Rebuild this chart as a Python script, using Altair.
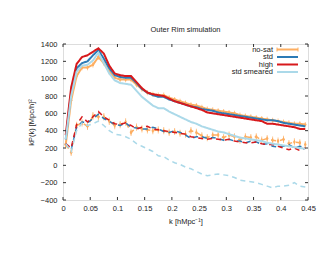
import altair as alt
import pandas as pd

# ---- data ----
k = [0.005, 0.015, 0.025, 0.035, 0.045, 0.055, 0.065, 0.075, 0.085, 0.095,
     0.105, 0.115, 0.125, 0.135, 0.145, 0.155, 0.165, 0.175, 0.185, 0.195,
     0.205, 0.215, 0.225, 0.235, 0.245, 0.255, 0.265, 0.275, 0.285, 0.295,
     0.305, 0.315, 0.325, 0.335, 0.345, 0.355, 0.365, 0.375, 0.385, 0.395,
     0.405, 0.415, 0.425, 0.435, 0.445]

nosat_mono = [240, 750, 1030, 1130, 1130, 1160, 1250, 1180, 1080, 1010,
              990, 990, 990, 930, 880, 840, 820, 810, 810, 780,
              760, 740, 720, 700, 690, 670, 650, 640, 630, 620,
              610, 600, 580, 570, 560, 550, 540, 530, 520, 510,
              500, 490, 480, 480, 470]
nosat_mono_err = [15, 15, 15, 15, 15, 15, 15, 15, 14, 14,
                  14, 14, 14, 13, 13, 13, 13, 13, 13, 12,
                  12, 12, 12, 12, 12, 12, 12, 12, 12, 12,
                  12, 12, 12, 12, 12, 12, 12, 12, 12, 12,
                  12, 12, 12, 12, 12]
std_mono = [300, 850, 1120, 1180, 1200, 1270, 1330, 1230, 1120, 1040,
            1020, 1010, 1010, 950, 880, 840, 810, 790, 790, 760,
            740, 720, 700, 680, 670, 650, 640, 630, 610, 600,
            590, 580, 570, 560, 550, 540, 530, 520, 520, 510,
            490, 480, 470, 460, 450]
high_mono = [350, 900, 1170, 1250, 1270, 1310, 1350, 1290, 1150, 1060,
             1040, 1030, 1030, 960, 890, 840, 820, 810, 800, 770,
             740, 720, 700, 680, 660, 640, 610, 600, 590, 580,
             570, 560, 550, 540, 530, 520, 510, 480, 480, 470,
             460, 450, 440, 420, 420]
smeared_mono = [300, 800, 1080, 1150, 1160, 1210, 1300, 1180, 1060, 980,
                950, 940, 930, 860, 790, 740, 690, 660, 660, 620,
                590, 560, 530, 500, 480, 450, 430, 410, 390, 380,
                360, 340, 320, 310, 300, 290, 280, 260, 250, 240,
                230, 220, 210, 200, 190]

nosat_quad = [240, 150, 460, 490, 450, 570, 560, 560, 510, 460,
              470, 500, 380, 440, 420, 410, 400, 410, 400, 380,
              390, 370, 360, 400, 380, 340, 320, 350, 350, 320,
              350, 330, 290, 330, 320, 330, 290, 310, 290, 280,
              300, 250, 270, 260, 240]
nosat_quad_err = [25, 25, 25, 25, 25, 28, 28, 26, 26, 25,
                  25, 25, 25, 25, 25, 25, 24, 24, 24, 24,
                  24, 24, 24, 24, 24, 24, 24, 24, 24, 24,
                  24, 24, 24, 24, 24, 24, 24, 24, 24, 24,
                  24, 24, 24, 24, 24]
std_quad = [250, 180, 440, 500, 490, 540, 590, 540, 510, 470,
            460, 490, 440, 430, 420, 420, 440, 420, 390, 380,
            400, 380, 350, 310, 330, 330, 310, 320, 310, 290,
            300, 280, 280, 260, 280, 270, 240, 250, 220, 210,
            220, 240, 200, 220, 200]
high_quad = [250, 200, 470, 560, 500, 560, 620, 560, 520, 480,
             470, 490, 460, 420, 440, 450, 420, 410, 400, 390,
             380, 370, 360, 330, 320, 310, 300, 310, 300, 290,
             300, 280, 270, 260, 260, 270, 250, 240, 240, 220,
             200, 180, 200, 170, 200]
smeared_quad = [250, 160, 400, 490, 460, 480, 510, 460, 400, 360,
                350, 330, 300, 250, 220, 190, 160, 110, 100, 60,
                30, 10, -20, -40, -70, -100, -120, -110, -100, -110,
                -120, -140, -170, -180, -190, -200, -220, -240, -260, -240,
                -240, -230, -200, -240, -250]

series_names = ["no-sat", "std", "high", "std smeared"]
series_colors = ["#fdae61", "#2c7bb6", "#d7191c", "#abd9e9"]
x_ticks = [0, 0.05, 0.1, 0.15, 0.2, 0.25, 0.3, 0.35, 0.4, 0.45]
y_ticks = [-400, -200, 0, 200, 400, 600, 800, 1000, 1200, 1400]

mono = {"no-sat": nosat_mono, "std": std_mono, "high": high_mono,
        "std smeared": smeared_mono}
quad = {"no-sat": nosat_quad, "std": std_quad, "high": high_quad,
        "std smeared": smeared_quad}

rows = []
for s in series_names:
    for i, kk in enumerate(k):
        rows.append({"k": kk, "P": mono[s][i], "series": s, "kind": "mono",
                     "grp": s + "-mono"})
        rows.append({"k": kk, "P": quad[s][i], "series": s, "kind": "quad",
                     "grp": s + "-quad"})
df = pd.DataFrame(rows)

err_rows = []
for i, kk in enumerate(k):
    err_rows.append({"k": kk, "P": nosat_mono[i], "lo": nosat_mono[i] - nosat_mono_err[i],
                     "hi": nosat_mono[i] + nosat_mono_err[i]})
    err_rows.append({"k": kk, "P": nosat_quad[i], "lo": nosat_quad[i] - nosat_quad_err[i],
                     "hi": nosat_quad[i] + nosat_quad_err[i]})
edf = pd.DataFrame(err_rows)

FONT = "Liberation Sans"
W, H = 245, 156

xscale = alt.Scale(domain=[0, 0.45], nice=False, zero=False)
yscale = alt.Scale(domain=[-400, 1400], nice=False, zero=False)
cscale = alt.Scale(domain=series_names, range=series_colors)

xaxis = alt.Axis(values=x_ticks, format=".2~f", ticks=False, domain=False, grid=False,
                 labelOverlap=False, labelFlush=False, labelBound=False,
                 labelPadding=4, labelFontSize=7.5, labelFont=FONT, labelColor="#222",
                 title="k [hMpc⁻¹]", titleFont=FONT, titleFontSize=7.5,
                 titleFontWeight="normal", titlePadding=6, titleColor="#222")
yaxis = alt.Axis(values=y_ticks, format="d", ticks=False, domain=False, grid=False,
                 labelOverlap=False, labelFlush=False, labelBound=False,
                 labelPadding=6, labelFontSize=7.5, labelFont=FONT, labelColor="#222",
                 title="kP(k) [Mpc/h]²", titleFont=FONT, titleFontSize=7.5,
                 titleFontWeight="normal", titlePadding=5, titleColor="#222")


def X(field):
    return alt.X(field, scale=xscale, axis=xaxis)


def Y(field):
    return alt.Y(field, scale=yscale, axis=yaxis)


layers = []
for s in series_names:
    sub = df[df.series == s]
    if s == "no-sat":
        e = alt.Chart(edf)
        layers.append(e.mark_rule(color="#fdae61", strokeWidth=1).encode(
            x=X("k:Q"), y=Y("lo:Q"), y2="hi:Q"))
        layers.append(e.mark_tick(color="#fdae61", thickness=1, size=3).encode(
            x=X("k:Q"), y=Y("lo:Q")))
        layers.append(e.mark_tick(color="#fdae61", thickness=1, size=3).encode(
            x=X("k:Q"), y=Y("hi:Q")))
        layers.append(e.mark_point(color="#fdae61", filled=True, size=6, opacity=1).encode(
            x=X("k:Q"), y=Y("P:Q")))
    layers.append(alt.Chart(sub).mark_line().encode(
        x=X("k:Q"),
        y=Y("P:Q"),
        color=alt.Color("series:N", scale=cscale, legend=None),
        strokeDash=alt.StrokeDash("kind:N", scale=alt.Scale(domain=["mono", "quad"],
                                  range=[[1, 0], [5, 4]]), legend=None),
        strokeWidth=alt.StrokeWidth("kind:N", scale=alt.Scale(domain=["mono", "quad"],
                                    range=[2, 1.5]), legend=None),
        detail="grp:N"))

# inward ticks on all four sides
xt = pd.DataFrame({"t": x_ticks})
yt = pd.DataFrame({"t": y_ticks})
tick_color = "#333"
layers.append(alt.Chart(xt).mark_rule(color=tick_color, strokeWidth=1).encode(
    x=X("t:Q"), y=alt.value(H), y2=alt.value(H - 3)))
layers.append(alt.Chart(xt).mark_rule(color=tick_color, strokeWidth=1).encode(
    x=X("t:Q"), y=alt.value(0), y2=alt.value(3)))
layers.append(alt.Chart(yt).mark_rule(color=tick_color, strokeWidth=1).encode(
    y=Y("t:Q"), x=alt.value(0), x2=alt.value(3)))
layers.append(alt.Chart(yt).mark_rule(color=tick_color, strokeWidth=1).encode(
    y=Y("t:Q"), x=alt.value(W), x2=alt.value(W - 3)))

# gnuplot-style key, top right (text right-aligned, sample to the right)
legend_y = [5.5, 13, 20.5, 28]
one = pd.DataFrame({"a": [0]})
for name, col, ly in zip(series_names, series_colors, legend_y):
    layers.append(alt.Chart(one).mark_text(align="right", baseline="middle", font=FONT,
                                           fontSize=7.5, color="#222", text=name).encode(
        x=alt.value(210), y=alt.value(ly)))
    layers.append(alt.Chart(one).mark_rule(color=col, strokeWidth=2).encode(
        x=alt.value(214), x2=alt.value(235), y=alt.value(ly)))
    if name == "no-sat":
        for cx in (214, 235):
            layers.append(alt.Chart(one).mark_rule(color=col, strokeWidth=1).encode(
                x=alt.value(cx), y=alt.value(ly - 2), y2=alt.value(ly + 2)))

chart = alt.layer(*layers).properties(
    width=W, height=H,
    title=alt.TitleParams("Outer Rim simulation", font=FONT, fontSize=7.5,
                          fontWeight="normal", color="#222", offset=7),
    autosize=alt.AutoSizeParams(type="none"),
    padding={"left": 55, "top": 36, "right": 14, "bottom": 47},
).configure_view(stroke="#333", strokeWidth=1).configure(background="white")

chart.save("out.html", embed_options={"renderer": "svg", "actions": False})
